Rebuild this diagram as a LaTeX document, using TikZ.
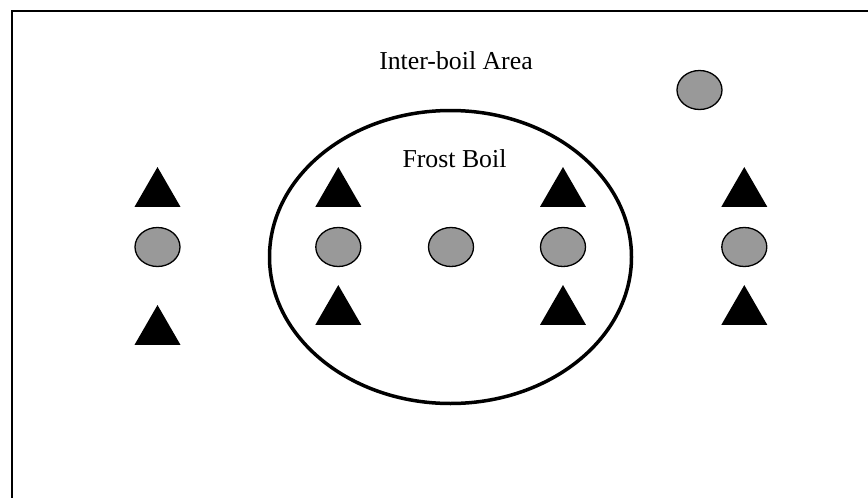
\documentclass[tikz,border=0pt]{standalone}
\usepackage{fontspec}
\setmainfont{Liberation Serif}
\usetikzlibrary{shapes.geometric}

\tikzset{
  stone/.style={ellipse,draw=black,line width=1.3pt,fill=black!40,
    minimum width=45pt,minimum height=39pt,inner sep=0pt},
  plant/.style={regular polygon,regular polygon sides=3,fill=black,
    minimum size=53.1pt,inner sep=0pt,outer sep=0pt},
  label/.style={anchor=base,inner sep=0pt,font=\fontsize{25.8}{30}\selectfont}
}

\begin{document}
\begin{tikzpicture}[x=1pt,y=-1pt]
      % Every aspect of the figure can be altered through these definitions
      \def\W{868} \def\H{498}
      \def\rowY{247} \def\topY{193.6} \def\lowY{311.6}

      % Restricts the canvas
      \useasboundingbox (0,0) rectangle (\W,\H);
      \clip (0,0) rectangle (\W,\H);

      % Draw the frame (cut at right and bottom)
      \draw[line width=1.6pt] (12,11) rectangle (\W+40,\H+40);

      % Frost boil
      \draw[line width=3.5pt] (450.5,257) ellipse [x radius=181,y radius=146.5];

      % grey stones
      \node[stone] (S1) at (157.5,\rowY) {};
      \node[stone] (S2) at (338.3,\rowY) {};
      \node[stone] (S3) at (451,\rowY) {};
      \node[stone] (S4) at (563,\rowY) {};
      \node[stone] (S5) at (744.3,\rowY) {};
      \node[stone] (S6) at (699.5,90) {};

      %black triangles
      \node[plant] (P1) at (157.5,\topY) {};
      \node[plant] (P2) at (157.5,331.6) {};
      \node[plant] (P3) at (338.3,\topY) {};
      \node[plant] (P4) at (338.3,\lowY) {};
      \node[plant] (P5) at (563,\topY) {};
      \node[plant] (P6) at (563,\lowY) {};
      \node[plant] (P7) at (744.3,\topY) {};
      \node[plant] (P8) at (744.3,\lowY) {};

      \node[label] (A) at (456,69) {Inter-boil Area};
      \node[label] (B) at (454.5,167) {Frost Boil};
\end{tikzpicture}
\end{document}
